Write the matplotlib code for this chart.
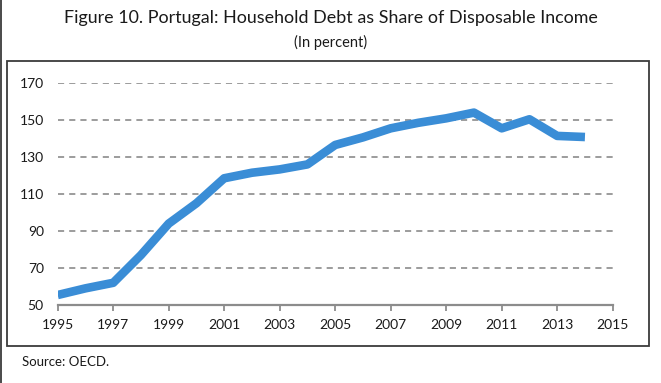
import matplotlib
matplotlib.use("Agg")
import matplotlib.pyplot as plt
from matplotlib.patches import Rectangle
from matplotlib.lines import Line2D

years = [1995, 1996, 1997, 1998, 1999, 2000, 2001, 2002, 2003, 2004,
         2005, 2006, 2007, 2008, 2009, 2010, 2011, 2012, 2013, 2014]
debt = [55.4, 59.0, 62.0, 77.0, 94.0, 105.0, 118.5, 121.5, 123.3, 126.0,
        136.5, 140.6, 145.5, 148.5, 150.9, 154.0, 145.5, 150.4, 141.4, 140.8]
xticks = list(range(1995, 2016, 2))
yticks = [50, 70, 90, 110, 130, 150, 170]
title = "Figure 10. Portugal: Household Debt as Share of Disposable Income"
subtitle = "(In percent)"
source = "Source: OECD."

plt.rcParams['font.family'] = ['Lato', 'DejaVu Sans']

W, H = 661, 383
fig = plt.figure(figsize=(W / 100, H / 100), dpi=100)

def fx(px):
    return px / W

def fy(py):
    return 1 - py / H

ax = fig.add_axes([fx(57.7), fy(305), fx(612.7) - fx(57.7), fy(83) - fy(305)])
ax.plot(years, debt, color='#3A8DD6', lw=6.2, solid_joinstyle='round',
        solid_capstyle='butt', zorder=3)
ax.set_xlim(1995, 2015)
ax.set_ylim(50, 170)
ax.set_xticks(xticks)
ax.set_xticklabels([str(t) for t in xticks])
ax.set_yticks(yticks)
ax.set_yticklabels([str(t) for t in yticks])
for y in yticks[1:]:
    ax.axhline(y, color='#949494', lw=1.3, dashes=(3.4, 2.8), zorder=1)
for s in ['top', 'right', 'left']:
    ax.spines[s].set_visible(False)
ax.spines['bottom'].set_color('#8C8C8C')
ax.spines['bottom'].set_linewidth(1.6)
ax.tick_params(axis='x', direction='out', length=4, width=1.3, color='#8C8C8C',
               labelsize=10, labelcolor='#1a1a1a', pad=6)
ax.tick_params(axis='y', length=0, labelsize=10, labelcolor='#1a1a1a', pad=10)
ax.patch.set_visible(False)

# chart box
fig.patches.append(Rectangle((fx(7), fy(346)), fx(649) - fx(7), fy(61) - fy(346),
                             transform=fig.transFigure, fill=False,
                             edgecolor='#3c3c3c', lw=1.3, zorder=0))
# left page edge line
fig.lines.append(Line2D([fx(1), fx(1)], [0, 1], transform=fig.transFigure,
                        color='#3c3c3c', lw=1.3))

fig.text(0.5, fy(18), title, ha='center', va='center', fontsize=12.9, color='#1a1a1a')
fig.text(0.5, fy(42), subtitle, ha='center', va='center', fontsize=10.5, color='#1a1a1a')
fig.text(fx(22), fy(362), source, ha='left', va='center', fontsize=9.5, color='#1a1a1a')

fig.savefig('out.png', dpi=100)
